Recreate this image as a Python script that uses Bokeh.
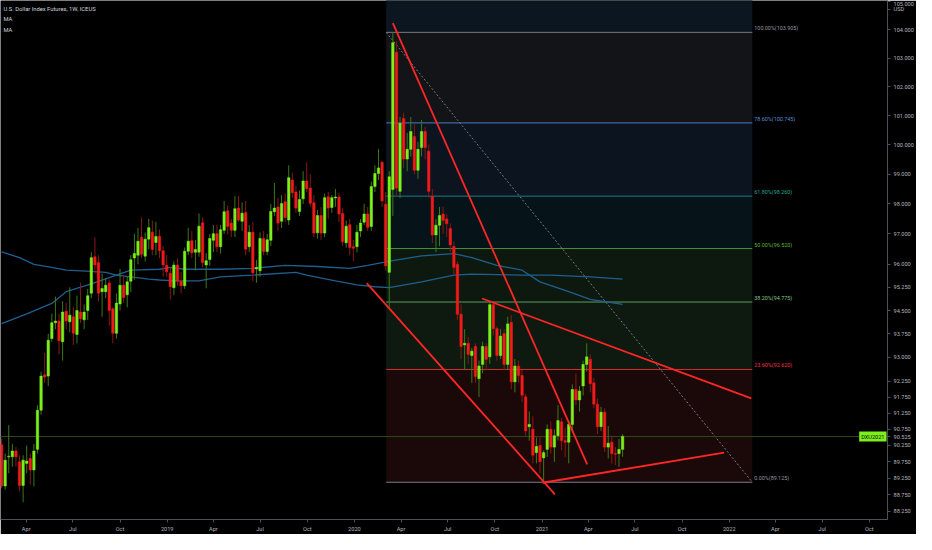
import pandas as pd
from bokeh.plotting import figure
from bokeh.models import FixedTicker, PrintfTickFormatter, Range1d, Label, ColumnDataSource
from bokeh.embed import file_html
from bokeh.resources import INLINE
from bokeh.core.properties import value

# ---------------- data ----------------
FIRST_WEEK = "2018-02-12"

opens = [
    90.27, 89.01, 89.90, 89.90, 90.08, 89.75, 89.03, 89.70, 89.85, 89.50,
    90.13, 91.34, 92.45, 92.41, 93.60, 94.11, 94.16, 93.50, 94.48, 94.14,
    94.30, 93.73, 94.45, 94.20, 94.50, 95.06, 96.25, 96.06, 95.11, 95.11,
    95.39, 94.56, 93.77, 94.71, 95.32, 95.01, 95.45, 96.21, 96.30, 96.89,
    96.27, 96.83, 97.06, 96.72, 96.92, 96.45, 95.97, 95.71, 95.24, 95.98,
    95.45, 95.30, 96.43, 96.78, 96.40, 96.40, 97.37, 95.98, 96.16, 96.79,
    97.01, 96.58, 97.12, 97.77, 97.36, 97.12, 97.86, 97.42, 97.71, 96.58,
    97.06, 95.85, 95.79, 96.85, 96.42, 96.79, 97.74, 97.90, 97.42, 98.07,
    97.46, 98.80, 98.40, 97.75, 98.17, 98.77, 98.53, 98.04, 97.04, 97.61,
    97.03, 98.24, 97.88, 98.20, 98.23, 97.68, 96.71, 97.31, 96.58, 96.58,
    97.10, 97.39, 97.66, 97.25, 98.58, 99.02, 99.40, 97.99, 95.74, 98.48,
    103.20, 98.42, 100.90, 99.51, 99.84, 100.28, 99.13, 99.90, 100.45, 99.78,
    98.26, 96.97, 97.29, 97.66, 97.50, 97.18, 96.59, 96.00, 94.38, 93.40,
    93.45, 93.06, 93.35, 92.33, 92.78, 93.35, 93.02, 94.69, 93.92, 93.06,
    93.76, 92.78, 94.12, 92.23, 92.73, 92.43, 91.76, 90.83, 90.75, 90.03,
    90.25, 89.87, 90.13, 90.75, 90.20, 90.55, 90.98, 90.40, 90.35, 90.90,
    91.99, 91.66, 92.10, 92.78, 92.94, 92.20, 91.53, 90.83, 91.28, 90.20,
    90.35, 90.00, 90.00, 90.13,
]
highs = [
    90.45, 90.00, 90.88, 90.30, 90.20, 89.95, 89.95, 90.25, 90.00, 90.30,
    91.50, 92.55, 93.15, 93.75, 94.40, 94.95, 94.40, 94.80, 94.75, 95.25,
    94.60, 94.98, 95.40, 94.70, 95.20, 96.40, 96.89, 96.30, 95.70, 95.55,
    95.50, 94.60, 95.05, 95.85, 95.65, 95.60, 96.30, 97.00, 97.20, 97.55,
    97.05, 97.50, 97.45, 97.40, 97.15, 96.60, 96.30, 95.90, 96.10, 96.20,
    95.75, 96.55, 97.20, 97.10, 96.80, 97.68, 97.55, 96.37, 97.00, 97.30,
    97.30, 97.30, 98.10, 97.95, 97.50, 98.26, 98.26, 98.05, 98.10, 97.30,
    97.40, 96.15, 97.05, 97.10, 97.00, 98.00, 98.70, 98.20, 98.30, 98.35,
    99.30, 99.05, 98.60, 98.45, 99.10, 99.40, 99.00, 98.30, 97.80, 97.90,
    98.35, 98.40, 98.30, 98.50, 98.35, 97.85, 97.45, 97.50, 96.80, 97.30,
    97.50, 98.00, 97.90, 98.75, 99.30, 99.85, 99.45, 98.40, 99.10, 103.905,
    103.60, 100.95, 101.10, 100.40, 100.95, 100.70, 100.10, 100.85, 100.60, 100.00,
    98.50, 97.50, 97.90, 97.90, 97.65, 97.35, 96.75, 96.10, 94.70, 93.90,
    93.65, 93.30, 93.45, 92.90, 93.50, 93.45, 94.75, 94.75, 94.00, 93.90,
    93.90, 94.30, 94.35, 92.95, 92.90, 92.60, 91.85, 91.30, 91.15, 90.50,
    90.50, 90.10, 90.90, 91.00, 90.75, 91.50, 91.10, 90.80, 91.00, 92.15,
    92.50, 92.10, 92.90, 93.45, 93.10, 92.35, 91.70, 91.45, 91.40, 90.85,
    90.55, 90.20, 90.45, 90.60,
]
lows = [
    88.95, 88.90, 89.40, 89.60, 89.60, 88.85, 88.52, 89.40, 89.05, 89.00,
    90.00, 91.20, 92.20, 92.10, 93.50, 93.90, 93.10, 92.90, 93.90, 93.80,
    93.40, 93.45, 94.10, 93.90, 94.20, 94.90, 95.70, 94.80, 94.30, 94.90,
    94.00, 93.45, 93.60, 94.50, 94.75, 94.60, 95.10, 95.50, 96.00, 96.20,
    96.10, 96.50, 96.30, 96.30, 96.20, 95.60, 95.60, 94.85, 95.00, 95.30,
    95.05, 95.20, 96.30, 96.20, 95.80, 96.25, 95.90, 95.22, 95.95, 96.40,
    96.40, 96.35, 97.00, 97.00, 96.90, 96.90, 97.40, 97.10, 96.30, 96.40,
    95.45, 95.40, 95.60, 96.30, 96.30, 96.60, 97.60, 97.10, 97.20, 97.40,
    97.30, 98.20, 97.70, 97.60, 98.00, 98.40, 97.90, 96.90, 96.85, 96.80,
    96.90, 97.50, 97.70, 97.90, 97.40, 96.60, 96.55, 96.30, 96.10, 96.40,
    96.90, 97.30, 97.10, 97.10, 98.40, 98.80, 97.90, 95.80, 94.59, 97.60,
    98.30, 98.20, 99.20, 99.10, 99.60, 99.00, 98.85, 99.60, 99.50, 98.20,
    96.70, 96.40, 96.60, 97.00, 96.90, 96.40, 95.65, 94.20, 92.95, 92.60,
    92.80, 92.20, 92.20, 91.75, 92.50, 92.60, 92.80, 93.70, 92.90, 92.95,
    92.60, 92.60, 92.00, 91.90, 92.20, 91.60, 90.55, 90.40, 89.70, 89.70,
    89.40, 89.125, 89.90, 90.00, 89.75, 90.40, 90.10, 89.90, 89.70, 90.70,
    91.50, 91.30, 91.80, 92.55, 91.90, 91.40, 90.60, 90.70, 90.05, 89.85,
    89.70, 89.65, 89.60, 89.90,
]
closes = [
    89.01, 89.80, 89.92, 90.08, 89.90, 89.03, 89.80, 89.77, 89.50, 90.08,
    91.34, 92.41, 92.38, 93.55, 94.11, 94.16, 93.53, 94.45, 94.16, 94.35,
    93.77, 94.50, 94.24, 94.45, 94.98, 96.22, 95.98, 95.06, 95.21, 95.32,
    94.50, 93.77, 94.74, 95.32, 94.92, 95.43, 96.15, 96.36, 96.76, 96.33,
    96.83, 97.21, 96.49, 96.92, 96.45, 95.98, 95.76, 95.27, 95.98, 95.45,
    95.30, 96.43, 96.76, 96.38, 96.49, 97.26, 96.06, 96.12, 96.85, 97.01,
    96.58, 97.14, 97.74, 97.25, 97.12, 97.84, 97.46, 97.69, 96.50, 97.06,
    95.72, 95.90, 96.85, 96.42, 96.81, 97.75, 97.86, 97.36, 98.01, 97.55,
    98.88, 98.37, 97.86, 98.15, 98.77, 98.51, 98.02, 97.03, 97.61, 97.03,
    98.21, 97.86, 98.21, 98.23, 97.66, 96.74, 97.26, 96.55, 96.53, 97.06,
    97.36, 97.66, 97.22, 98.58, 99.02, 99.21, 98.10, 95.95, 98.91, 103.54,
    98.53, 100.73, 99.51, 99.84, 100.45, 99.13, 99.84, 100.45, 99.90, 98.42,
    96.97, 97.29, 97.61, 97.45, 97.34, 96.64, 95.90, 94.38, 93.35, 93.45,
    93.10, 93.20, 92.40, 92.73, 93.35, 92.94, 94.69, 93.92, 93.06, 93.68,
    92.78, 94.07, 92.23, 92.73, 92.43, 91.81, 90.70, 90.90, 89.95, 90.22,
    89.75, 90.03, 90.75, 90.20, 90.55, 91.02, 90.40, 90.35, 90.90, 91.99,
    91.66, 91.94, 92.78, 93.02, 92.17, 91.53, 90.83, 91.28, 90.20, 90.32,
    90.00, 89.98, 90.13, 90.53,
]

ma_fast_weeks = [0, 7, 14, 18, 25, 32, 36, 44, 47, 51, 55, 61, 70, 79, 88, 97,
                 102, 106, 109, 117, 126, 131, 138, 145, 150, 158, 164, 173]
ma_fast_vals = [94.08, 94.39, 94.73, 95.11, 95.36, 95.65, 95.81, 95.84, 95.90, 95.84,
                95.84, 95.84, 95.87, 95.97, 95.93, 95.87, 95.97, 96.06, 96.12, 96.28,
                96.35, 96.22, 95.97, 95.81, 95.43, 95.11, 94.86, 94.70]
ma_slow_weeks = [0, 5, 9, 14, 18, 25, 29, 32, 36, 41, 44, 48, 55, 61, 70, 82, 85,
                 93, 99, 104, 108, 117, 126, 131, 145, 153, 164, 173]
ma_slow_vals = [96.41, 96.22, 96.00, 95.90, 95.81, 95.77, 95.74, 95.65, 95.59, 95.52,
                95.49, 95.46, 95.46, 95.59, 95.65, 95.74, 95.65, 95.46, 95.33, 95.27,
                95.24, 95.43, 95.65, 95.68, 95.65, 95.65, 95.59, 95.52]

fib_pct = [161.8, 100.0, 78.6, 61.8, 50.0, 38.2, 23.6, 0.0]
fib_price = [113.040, 103.905, 100.745, 98.260, 96.520, 94.775, 92.620, 89.125]
fib_start = "2020-03-03"
fib_end = "2022-02-15"

trend_x0 = ["2020-03-16", "2020-01-25", "2020-09-06", "2021-01-02"]
trend_y0 = [104.23, 95.39, 94.89, 89.11]
trend_x1 = ["2021-03-30", "2021-01-26", "2022-02-13", "2021-12-22"]
trend_y1 = [89.67, 88.76, 91.71, 90.03]

price_ticks = [105, 104, 103, 102, 101, 100, 99, 98, 97, 96, 95.25, 94.5, 93.75, 93,
               92.25, 91.75, 91.25, 90.75, 90.25, 89.75, 89.25, 88.75, 88.25]
time_ticks = ["2018-04-01", "2018-07-01", "2018-10-01", "2019-01-01", "2019-04-01",
              "2019-07-01", "2019-10-01", "2020-01-01", "2020-04-01", "2020-07-01",
              "2020-10-01", "2021-01-01", "2021-04-01", "2021-07-01", "2021-10-01",
              "2022-01-01", "2022-04-01", "2022-07-01", "2022-10-01"]
time_labels = ["Apr", "Jul", "Oct", "2019", "Apr", "Jul", "Oct", "2020", "Apr", "Jul",
               "Oct", "2021", "Apr", "Jul", "Oct", "2022", "Apr", "Jul", "Oct"]
last_price = 90.525
symbol_code = "DXU2021"
currency = "USD"
currency_at = 104.72
title_text = "U.S. Dollar Index Futures, 1W, ICEUS"

# ---------------- helpers ----------------
WEEK_MS = 7 * 24 * 3600 * 1000
T0 = pd.Timestamp(FIRST_WEEK).value // 10**6


def wk(w):
    return T0 + w * WEEK_MS


def ms(d):
    return pd.Timestamp(d).value // 10**6


FONT = "Roboto"
x_start, x_end = wk(-0.3), wk(246.8)
y_lo, y_hi = 88.0, 105.04

p = figure(width=916, height=534, x_range=Range1d(x_start, x_end),
           y_range=Range1d(y_lo, y_hi), y_axis_type="log", y_axis_location="right",
           output_backend="svg", toolbar_location=None, min_border=0,
           background_fill_color="#000000", border_fill_color="#000000",
           outline_line_color=None)
p.xgrid.visible = False
p.ygrid.visible = False

# ---------------- fib retracement ----------------
fs, fe = ms(fib_start), ms(fib_end)
zone_colors = ["#0c1620", "#131417", "#0c1420", "#06141a", "#0d190f", "#0e1a10", "#1b0909"]
p.quad(left=[fs] * 7, right=[fe] * 7, top=fib_price[:-1], bottom=fib_price[1:],
       fill_color=zone_colors, line_color=None)
level_colors = ["#9c27b0", "#787b86", "#4a7cc0", "#1d7f86", "#4c8f3a", "#5e9d5e", "#d32f2f", "#787b86"]
label_colors = ["#9c27b0", "#9598a1", "#5b8fd6", "#26a69a", "#5cb82e", "#85c785", "#f23645", "#9598a1"]
p.segment(x0=[fs] * 8, x1=[fe] * 8, y0=fib_price, y1=fib_price, line_color=level_colors,
          line_width=1)
shown = [k for k, v in enumerate(fib_price) if y_lo <= v <= y_hi]
fib_src = ColumnDataSource(dict(
    x=[fe] * len(shown), y=[fib_price[k] for k in shown],
    t=["%.2f%%(%.3f)" % (fib_pct[k], fib_price[k]) for k in shown],
    c=[label_colors[k] for k in shown]))
p.text(x="x", y="y", text="t", text_color="c", source=fib_src, text_font=value(FONT),
       text_font_size="5.4px", text_baseline="middle", text_align="left",
       x_offset=2, y_offset=-4)
# fib trend (dotted diagonal)
p.line([fs, fe], [fib_price[1], fib_price[-1]], line_color="#787b86", line_width=1,
       line_dash="2 2")

# ---------------- current price line ----------------
p.line([x_start, x_end], [last_price, last_price], line_color="#2c4a1e", line_width=1)

# ---------------- moving averages ----------------
p.line([wk(w) for w in ma_slow_weeks], ma_slow_vals, line_color="#1f5f8f", line_width=1.3)
p.line([wk(w) for w in ma_fast_weeks], ma_fast_vals, line_color="#1f5f8f", line_width=1.3)

# ---------------- candles ----------------
xs = [wk(i) for i in range(len(closes))]
up = [c >= o for o, c in zip(opens, closes)]
src = ColumnDataSource(dict(
    x=xs, o=opens, h=highs, l=lows, c=closes,
    top=[max(o, c) for o, c in zip(opens, closes)],
    bot=[min(o, c) for o, c in zip(opens, closes)],
    body=["#7cf01a" if u else "#f21a1a" for u in up],
    wick=["#3a7a18" if u else "#8c1616" for u in up],
))
p.segment(x0="x", x1="x", y0="l", y1="h", line_color="wick", line_width=1, source=src)
p.vbar(x="x", width=WEEK_MS * 0.68, top="top", bottom="bot", fill_color="body",
       line_color="body", line_width=0.5, source=src)

# ---------------- trend lines ----------------
p.segment(x0=[ms(d) for d in trend_x0], y0=trend_y0, x1=[ms(d) for d in trend_x1],
          y1=trend_y1, line_color="#ff2626", line_width=1.8)

# ---------------- axes ----------------
ya = p.yaxis[0]
ya.ticker = FixedTicker(ticks=price_ticks + [last_price, currency_at], minor_ticks=[])
ya.formatter = PrintfTickFormatter(format="%.3f")
ya.major_label_overrides = {last_price: "%.3f" % last_price, currency_at: currency}
xa = p.xaxis[0]
xa.ticker = FixedTicker(ticks=[ms(d) for d in time_ticks], minor_ticks=[])
xa.major_label_overrides = {ms(d): lbl for d, lbl in zip(time_ticks, time_labels)}
for ax in (ya, xa):
    ax.axis_line_color = "#4e5058"
    ax.major_tick_line_color = "#4e5058"
    ax.minor_tick_line_color = None
    ax.major_tick_in = 0
    ax.major_tick_out = 3
    ax.major_label_text_color = "#b2b5be"
    ax.major_label_text_font = FONT
    ax.major_label_text_font_size = "5.6px"
ya.major_label_standoff = 3
xa.major_label_standoff = 3

# ---------------- labels ----------------
for k, txt in enumerate([title_text, "MA", "MA"]):
    p.add_layout(Label(x=x_start, y=y_hi, x_offset=3, y_offset=-8 - 10.5 * k, text=txt,
                       text_font=FONT, text_font_size="5.8px", text_color="#d1d4dc",
                       text_baseline="middle"))
p.add_layout(Label(x=x_end, y=last_price, x_offset=-1, text=symbol_code, text_align="right",
                   text_font=FONT, text_font_size="5.6px", text_color="#0a0a0a",
                   text_baseline="middle", background_fill_color="#7cf01a", padding=2))

open("out.html", "w").write(file_html(p, INLINE))
